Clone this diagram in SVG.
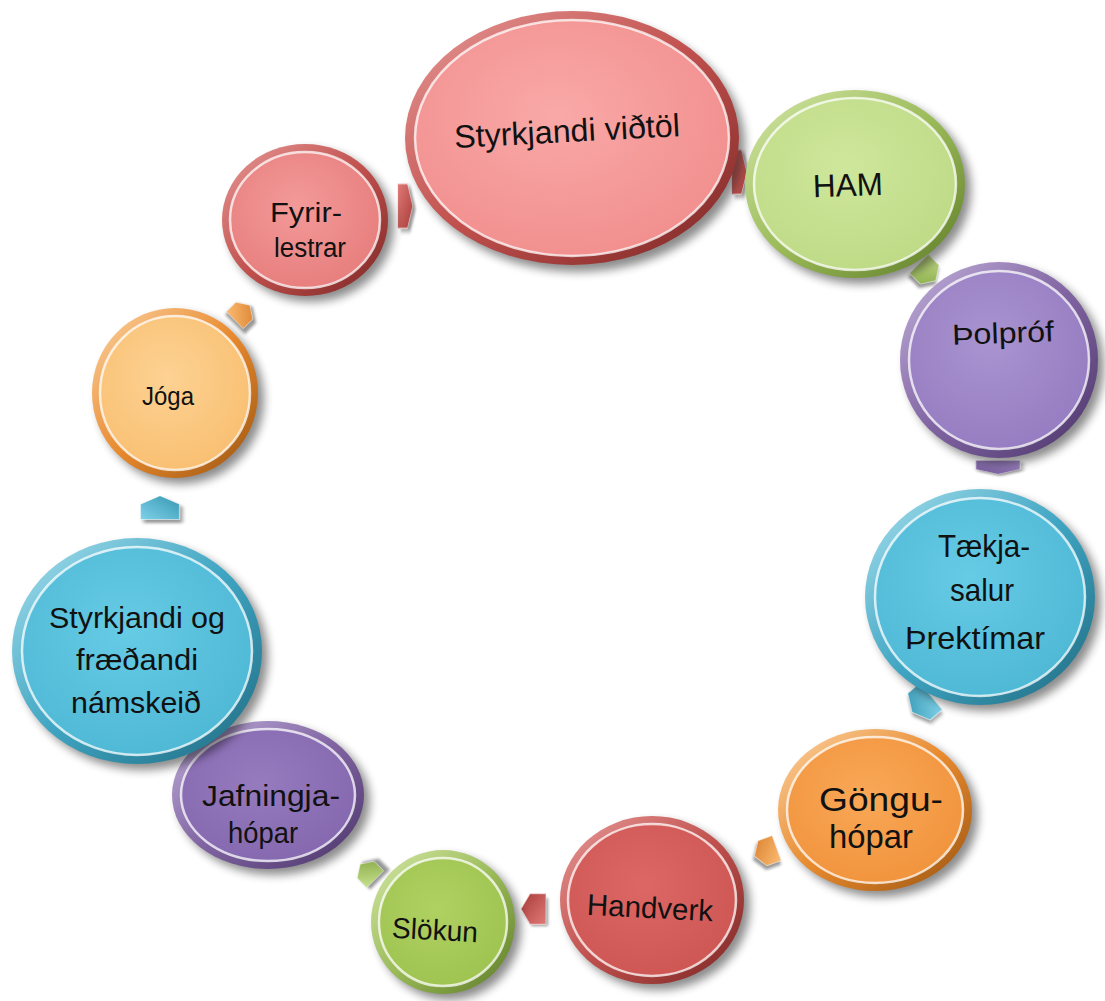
<svg xmlns="http://www.w3.org/2000/svg" xmlns:xlink="http://www.w3.org/1999/xlink" width="1105" height="1001" viewBox="0 0 1105 1001">
<style>
  text { font-family: "Liberation Sans", "DejaVu Sans", sans-serif; fill: #111; text-anchor: middle; }
  .sh { fill: #000; opacity: 0.45; filter: url(#blur); }
  .hl { fill: none; stroke: #fff; stroke-opacity: 0.75; stroke-width: 2.5; }
  .arr-sh { fill: #000; opacity: 0.4; filter: url(#blur2); }
  .arr-edge { stroke: #fff; stroke-opacity: 0.55; stroke-width: 1; }
</style>
<defs>
  <filter id="blur" x="-20%" y="-20%" width="140%" height="140%"><feGaussianBlur stdDeviation="5"/></filter>
  <filter id="blur2" x="-50%" y="-50%" width="200%" height="200%"><feGaussianBlur stdDeviation="1.5"/></filter>
  <linearGradient id="rimRed" x1="0" y1="0" x2="1" y2="1"><stop offset="0" stop-color="#e79a98"/><stop offset="0.5" stop-color="#c0504d"/><stop offset="1" stop-color="#7a2624"/></linearGradient>
  <linearGradient id="rimGreen" x1="0" y1="0" x2="1" y2="1"><stop offset="0" stop-color="#d4e8a8"/><stop offset="0.5" stop-color="#9bbb59"/><stop offset="1" stop-color="#5d7a26"/></linearGradient>
  <linearGradient id="rimPurple" x1="0" y1="0" x2="1" y2="1"><stop offset="0" stop-color="#c3b2dc"/><stop offset="0.5" stop-color="#8064a2"/><stop offset="1" stop-color="#4a3468"/></linearGradient>
  <linearGradient id="rimBlue" x1="0" y1="0" x2="1" y2="1"><stop offset="0" stop-color="#a8e0ee"/><stop offset="0.5" stop-color="#3fa5c2"/><stop offset="1" stop-color="#1f6a80"/></linearGradient>
  <linearGradient id="rimOrange" x1="0" y1="0" x2="1" y2="1"><stop offset="0" stop-color="#fcd4a4"/><stop offset="0.5" stop-color="#e88a2e"/><stop offset="1" stop-color="#9a5410"/></linearGradient>
  <linearGradient id="aRed" x1="0" y1="0" x2="1" y2="1"><stop offset="0" stop-color="#e07a77"/><stop offset="1" stop-color="#a83c39"/></linearGradient>
  <linearGradient id="aGreen" x1="0" y1="0" x2="1" y2="1"><stop offset="0" stop-color="#c6e08c"/><stop offset="1" stop-color="#86a845"/></linearGradient>
  <linearGradient id="aPurple" x1="0" y1="0" x2="1" y2="1"><stop offset="0" stop-color="#a58dc9"/><stop offset="1" stop-color="#6f5494"/></linearGradient>
  <linearGradient id="aBlue" x1="0" y1="0" x2="1" y2="1"><stop offset="0" stop-color="#7fd2e8"/><stop offset="1" stop-color="#3596b2"/></linearGradient>
  <linearGradient id="aOrange" x1="0" y1="0" x2="1" y2="1"><stop offset="0" stop-color="#fbbb72"/><stop offset="1" stop-color="#d9802c"/></linearGradient>
  <radialGradient id="fPink" cx="0.45" cy="0.4" r="0.7"><stop offset="0" stop-color="#f9a9a8"/><stop offset="1" stop-color="#f08c8b"/></radialGradient>
  <radialGradient id="fPink2" cx="0.45" cy="0.4" r="0.7"><stop offset="0" stop-color="#f39a99"/><stop offset="1" stop-color="#e57b7a"/></radialGradient>
  <radialGradient id="fRed" cx="0.45" cy="0.4" r="0.7"><stop offset="0" stop-color="#dc6764"/><stop offset="1" stop-color="#cc5552"/></radialGradient>
  <radialGradient id="fGreenL" cx="0.45" cy="0.4" r="0.7"><stop offset="0" stop-color="#cfe79c"/><stop offset="1" stop-color="#bcd984"/></radialGradient>
  <radialGradient id="fGreen" cx="0.45" cy="0.4" r="0.7"><stop offset="0" stop-color="#afd162"/><stop offset="1" stop-color="#9dc24f"/></radialGradient>
  <radialGradient id="fPurple" cx="0.45" cy="0.4" r="0.7"><stop offset="0" stop-color="#a994d0"/><stop offset="1" stop-color="#9479bf"/></radialGradient>
  <radialGradient id="fPurple2" cx="0.45" cy="0.4" r="0.7"><stop offset="0" stop-color="#967bbf"/><stop offset="1" stop-color="#8366ad"/></radialGradient>
  <radialGradient id="fBlue" cx="0.45" cy="0.4" r="0.7"><stop offset="0" stop-color="#66cbe5"/><stop offset="1" stop-color="#4cb6d3"/></radialGradient>
  <radialGradient id="fOrange" cx="0.45" cy="0.4" r="0.7"><stop offset="0" stop-color="#f9a857"/><stop offset="1" stop-color="#f0913a"/></radialGradient>
  <radialGradient id="fOrangeL" cx="0.45" cy="0.4" r="0.7"><stop offset="0" stop-color="#fdd293"/><stop offset="1" stop-color="#f8bd6e"/></radialGradient>
  <path id="arr" d="M-12,-14 L4,-14 L13,0 L4,14 L-12,14 Z"/>
</defs>

<g id="connectors">
  <g transform="translate(405,206)"><use xlink:href="#arr" class="arr-sh" transform="translate(3,3) scale(0.6,1.6)"/><use xlink:href="#arr" fill="url(#aRed)" class="arr-edge" transform="scale(0.6,1.6)"/></g>
  <g transform="translate(739,172)"><use xlink:href="#arr" class="arr-sh" transform="translate(3,3) scale(0.6,1.6)"/><use xlink:href="#arr" fill="url(#aRed)" class="arr-edge" transform="scale(0.6,1.6)"/></g>
  <g transform="translate(927,272) rotate(45)"><use xlink:href="#arr" class="arr-sh" transform="translate(2,3)"/><use xlink:href="#arr" fill="url(#aGreen)" class="arr-edge" transform="scale(0.95,0.95)"/></g>
  <g transform="translate(998,467) rotate(90)"><use xlink:href="#arr" class="arr-sh" transform="translate(2,-2) scale(0.55,1.6)"/><use xlink:href="#arr" fill="url(#aPurple)" class="arr-edge" transform="scale(0.55,1.6)"/></g>
  <g transform="translate(922,704) rotate(140)"><use xlink:href="#arr" class="arr-sh" transform="translate(2,-3) scale(1,1.25)"/><use xlink:href="#arr" fill="url(#aBlue)" class="arr-edge" transform="scale(1,1.25)"/></g>
  <g transform="translate(766,852) rotate(160)"><use xlink:href="#arr" class="arr-sh" transform="translate(2,-3)"/><use xlink:href="#arr" fill="url(#aOrange)" class="arr-edge" transform="scale(0.95,0.95)"/></g>
  <g transform="translate(534,909) rotate(180)"><use xlink:href="#arr" class="arr-sh" transform="translate(-2,-3)"/><use xlink:href="#arr" fill="url(#aRed)" class="arr-edge" transform="scale(1,1.1)"/></g>
  <g transform="translate(368,872) rotate(-135)"><use xlink:href="#arr" class="arr-sh" transform="translate(-2,3)"/><use xlink:href="#arr" fill="url(#aGreen)" class="arr-edge" transform="scale(0.85,0.85)"/></g>
  <g transform="translate(160,508) rotate(-90)"><use xlink:href="#arr" class="arr-sh" transform="translate(-3,3) scale(1,1.4)"/><use xlink:href="#arr" fill="url(#aBlue)" class="arr-edge" transform="scale(0.95,1.4)"/></g>
  <g transform="translate(242,313) rotate(-45)"><use xlink:href="#arr" class="arr-sh" transform="translate(-1,3)"/><use xlink:href="#arr" fill="url(#aOrange)" class="arr-edge" transform="scale(0.85,0.85)"/></g>
</g>

<g id="n-styrkjandi-vidtol">
  <ellipse class="sh" cx="578" cy="145" rx="167" ry="127"/>
  <ellipse cx="572" cy="138" rx="167" ry="127" fill="url(#rimRed)"/>
  <ellipse cx="572" cy="138" rx="157" ry="118" fill="url(#fPink)"/>
  <ellipse class="hl" cx="572" cy="138" rx="157" ry="118"/>
  <text x="567" y="142" font-size="32" textLength="226" lengthAdjust="spacingAndGlyphs" transform="rotate(-3 567 132)">Styrkjandi viðtöl</text>
</g>

<g id="n-ham">
  <ellipse class="sh" cx="861" cy="190" rx="110" ry="94"/>
  <ellipse cx="855" cy="184" rx="110" ry="94" fill="url(#rimGreen)"/>
  <ellipse cx="855" cy="184" rx="101" ry="86" fill="url(#fGreenL)"/>
  <ellipse class="hl" cx="855" cy="184" rx="101" ry="86"/>
  <text x="848" y="196" font-size="32" textLength="70" lengthAdjust="spacingAndGlyphs" transform="rotate(-2 848 186)">HAM</text>
</g>

<g id="n-fyrirlestrar">
  <ellipse class="sh" cx="311" cy="226" rx="83" ry="76"/>
  <ellipse cx="305" cy="220" rx="83" ry="76" fill="url(#rimRed)"/>
  <ellipse cx="305" cy="220" rx="75" ry="68" fill="url(#fPink2)"/>
  <ellipse class="hl" cx="305" cy="220" rx="75" ry="68"/>
  <text x="306" y="222" font-size="27" textLength="72" lengthAdjust="spacingAndGlyphs">Fyrir-</text>
  <text x="310" y="257" font-size="27" textLength="72" lengthAdjust="spacingAndGlyphs">lestrar</text>
</g>

<g id="n-tholprof">
  <ellipse class="sh" cx="1005" cy="366" rx="99" ry="98"/>
  <ellipse cx="999" cy="360" rx="99" ry="98" fill="url(#rimPurple)"/>
  <ellipse cx="999" cy="360" rx="90" ry="89" fill="url(#fPurple)"/>
  <ellipse class="hl" cx="999" cy="360" rx="90" ry="89"/>
  <text x="1003" y="343" font-size="29" textLength="102" lengthAdjust="spacingAndGlyphs" transform="rotate(-2 1003 333)">Þolpróf</text>
</g>

<g id="n-taekjasalur">
  <ellipse class="sh" cx="986" cy="603" rx="115" ry="108"/>
  <ellipse cx="980" cy="597" rx="115" ry="108" fill="url(#rimBlue)"/>
  <ellipse cx="980" cy="597" rx="105" ry="99" fill="url(#fBlue)"/>
  <ellipse class="hl" cx="980" cy="597" rx="105" ry="99"/>
  <text x="984" y="557" font-size="32" textLength="92" lengthAdjust="spacingAndGlyphs">Tækja-</text>
  <text x="982" y="601" font-size="32" textLength="64" lengthAdjust="spacingAndGlyphs">salur</text>
  <text x="975" y="649" font-size="32" textLength="140" lengthAdjust="spacingAndGlyphs">Þrektímar</text>
</g>

<g id="n-gonguhopar">
  <ellipse class="sh" cx="881" cy="816" rx="97" ry="81"/>
  <ellipse cx="875" cy="810" rx="97" ry="81" fill="url(#rimOrange)"/>
  <ellipse cx="875" cy="810" rx="88" ry="73" fill="url(#fOrange)"/>
  <ellipse class="hl" cx="875" cy="810" rx="88" ry="73"/>
  <text x="881" y="811" font-size="34" textLength="124" lengthAdjust="spacingAndGlyphs">Göngu-</text>
  <text x="871" y="848" font-size="34" textLength="84" lengthAdjust="spacingAndGlyphs">hópar</text>
</g>

<g id="n-handverk">
  <ellipse class="sh" cx="658" cy="906" rx="92" ry="84"/>
  <ellipse cx="652" cy="900" rx="92" ry="84" fill="url(#rimRed)"/>
  <ellipse cx="652" cy="900" rx="84" ry="76" fill="url(#fRed)"/>
  <ellipse class="hl" cx="652" cy="900" rx="84" ry="76"/>
  <text x="650" y="918" font-size="30" textLength="126" lengthAdjust="spacingAndGlyphs" transform="rotate(3 650 908)">Handverk</text>
</g>

<g id="n-slokun">
  <ellipse class="sh" cx="449" cy="928" rx="72" ry="72"/>
  <ellipse cx="443" cy="922" rx="72" ry="72" fill="url(#rimGreen)"/>
  <ellipse cx="443" cy="922" rx="64" ry="64" fill="url(#fGreen)"/>
  <ellipse class="hl" cx="443" cy="922" rx="64" ry="64"/>
  <text x="435" y="940" font-size="29" textLength="86" lengthAdjust="spacingAndGlyphs" transform="rotate(3 435 930)">Slökun</text>
</g>

<g id="n-jafningjahopar">
  <ellipse class="sh" cx="274" cy="801" rx="96" ry="74"/>
  <ellipse cx="268" cy="795" rx="96" ry="74" fill="url(#rimPurple)"/>
  <ellipse cx="268" cy="795" rx="87" ry="66" fill="url(#fPurple2)"/>
  <ellipse class="hl" cx="268" cy="795" rx="87" ry="66"/>
  <text x="271" y="806" font-size="29" textLength="138" lengthAdjust="spacingAndGlyphs">Jafningja-</text>
  <text x="263" y="843" font-size="29" textLength="70" lengthAdjust="spacingAndGlyphs">hópar</text>
</g>

<g id="n-styrkjandi-namskeid">
  <ellipse class="sh" cx="143" cy="657" rx="125" ry="113"/>
  <ellipse cx="137" cy="651" rx="125" ry="113" fill="url(#rimBlue)"/>
  <ellipse cx="137" cy="651" rx="115" ry="104" fill="url(#fBlue)"/>
  <ellipse class="hl" cx="137" cy="651" rx="115" ry="104"/>
  <text x="137" y="628" font-size="30" textLength="176" lengthAdjust="spacingAndGlyphs">Styrkjandi og</text>
  <text x="137" y="670" font-size="30" textLength="122" lengthAdjust="spacingAndGlyphs">fræðandi</text>
  <text x="136" y="713" font-size="30" textLength="130" lengthAdjust="spacingAndGlyphs">námskeið</text>
</g>

<g id="n-joga">
  <ellipse class="sh" cx="181" cy="399" rx="83" ry="85"/>
  <ellipse cx="175" cy="393" rx="83" ry="85" fill="url(#rimOrange)"/>
  <ellipse cx="175" cy="393" rx="75" ry="77" fill="url(#fOrangeL)"/>
  <ellipse class="hl" cx="175" cy="393" rx="75" ry="77"/>
  <text x="168" y="405" font-size="26" textLength="52" lengthAdjust="spacingAndGlyphs">Jóga</text>
</g>
</svg>
